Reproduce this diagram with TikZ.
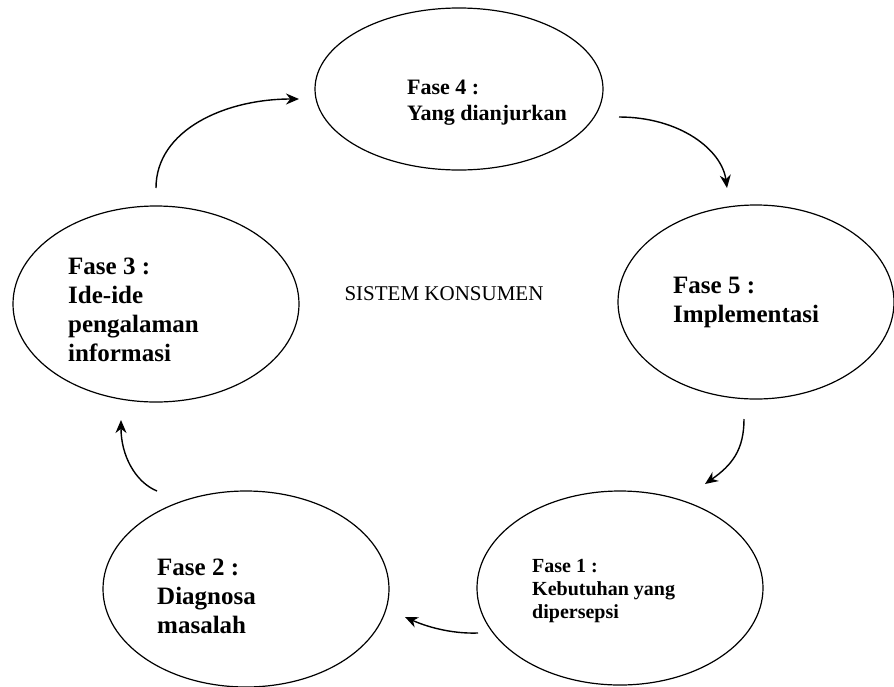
\documentclass[tikz,border=0pt]{standalone}
\usepackage{fontspec}
\setmainfont{Liberation Serif}
\usetikzlibrary{shapes.geometric,arrows.meta}
\tikzset{
  phase/.style={ellipse, draw, line width=1.2pt, inner sep=0pt},
  big/.style={anchor=base west, align=left, inner sep=0pt, font=\fontsize{25}{29}\selectfont\bfseries},
  mid/.style={anchor=base west, align=left, inner sep=0pt, font=\fontsize{22}{26}\selectfont\bfseries},
  small/.style={anchor=base west, align=left, inner sep=0pt, font=\fontsize{20}{23}\selectfont\bfseries},
  flow/.style={line width=1.4pt, -{Stealth[length=13pt,width=11pt]}}
}
\begin{document}
\begin{tikzpicture}[x=1pt,y=-1pt]
\useasboundingbox (0,0) rectangle (894,686);
% ellipses
\node[phase, minimum width=288pt, minimum height=162pt] (f4) at (459,89) {};
\node[phase, minimum width=276pt, minimum height=194pt] (f5) at (756,302) {};
\node[phase, minimum width=286pt, minimum height=194pt] (f1) at (620,588) {};
\node[phase, minimum width=286pt, minimum height=196pt] (f2) at (246,589) {};
\node[phase, minimum width=286pt, minimum height=196pt] (f3) at (156,304) {};
% texts (anchor at baseline of last line)
\node[mid] (t4) at (407,120) {Fase 4 :\\Yang dianjurkan};
\node[big] (t5) at (673,322) {Fase 5 :\\Implementasi};
\node[small] (t1) at (532,618) {Fase 1 :\\Kebutuhan yang\\dipersepsi};
\node[big] (t2) at (157,633) {Fase 2 :\\Diagnosa\\masalah};
\node[big] (t3) at (68,361) {Fase 3 :\\Ide-ide\\pengalaman\\informasi};
\node[font=\fontsize{21}{25}\selectfont] (center) at (444,294) {SISTEM KONSUMEN};
% arrow endpoints
\coordinate (s1) at (156,188); \coordinate (e1) at (299,99);
\coordinate (s2) at (619,117); \coordinate (e2) at (727,188);
\coordinate (s3) at (744,419); \coordinate (e3) at (705,484);
\coordinate (s4) at (478,633); \coordinate (e4) at (405,617);
\coordinate (s5) at (157,491); \coordinate (e5) at (121,420);
% arrows
\draw[flow] (s1) .. controls (156,130) and (225,99) .. (e1);
\draw[flow] (s2) .. controls (680,117) and (722,150) .. (e2);
\draw[flow] (s3) .. controls (744,450) and (732,465) .. (e3);
\draw[flow] (s4) .. controls (450,634) and (425,626) .. (e4);
\draw[flow] (s5) .. controls (135,482) and (121,455) .. (e5);
\end{tikzpicture}
\end{document}
